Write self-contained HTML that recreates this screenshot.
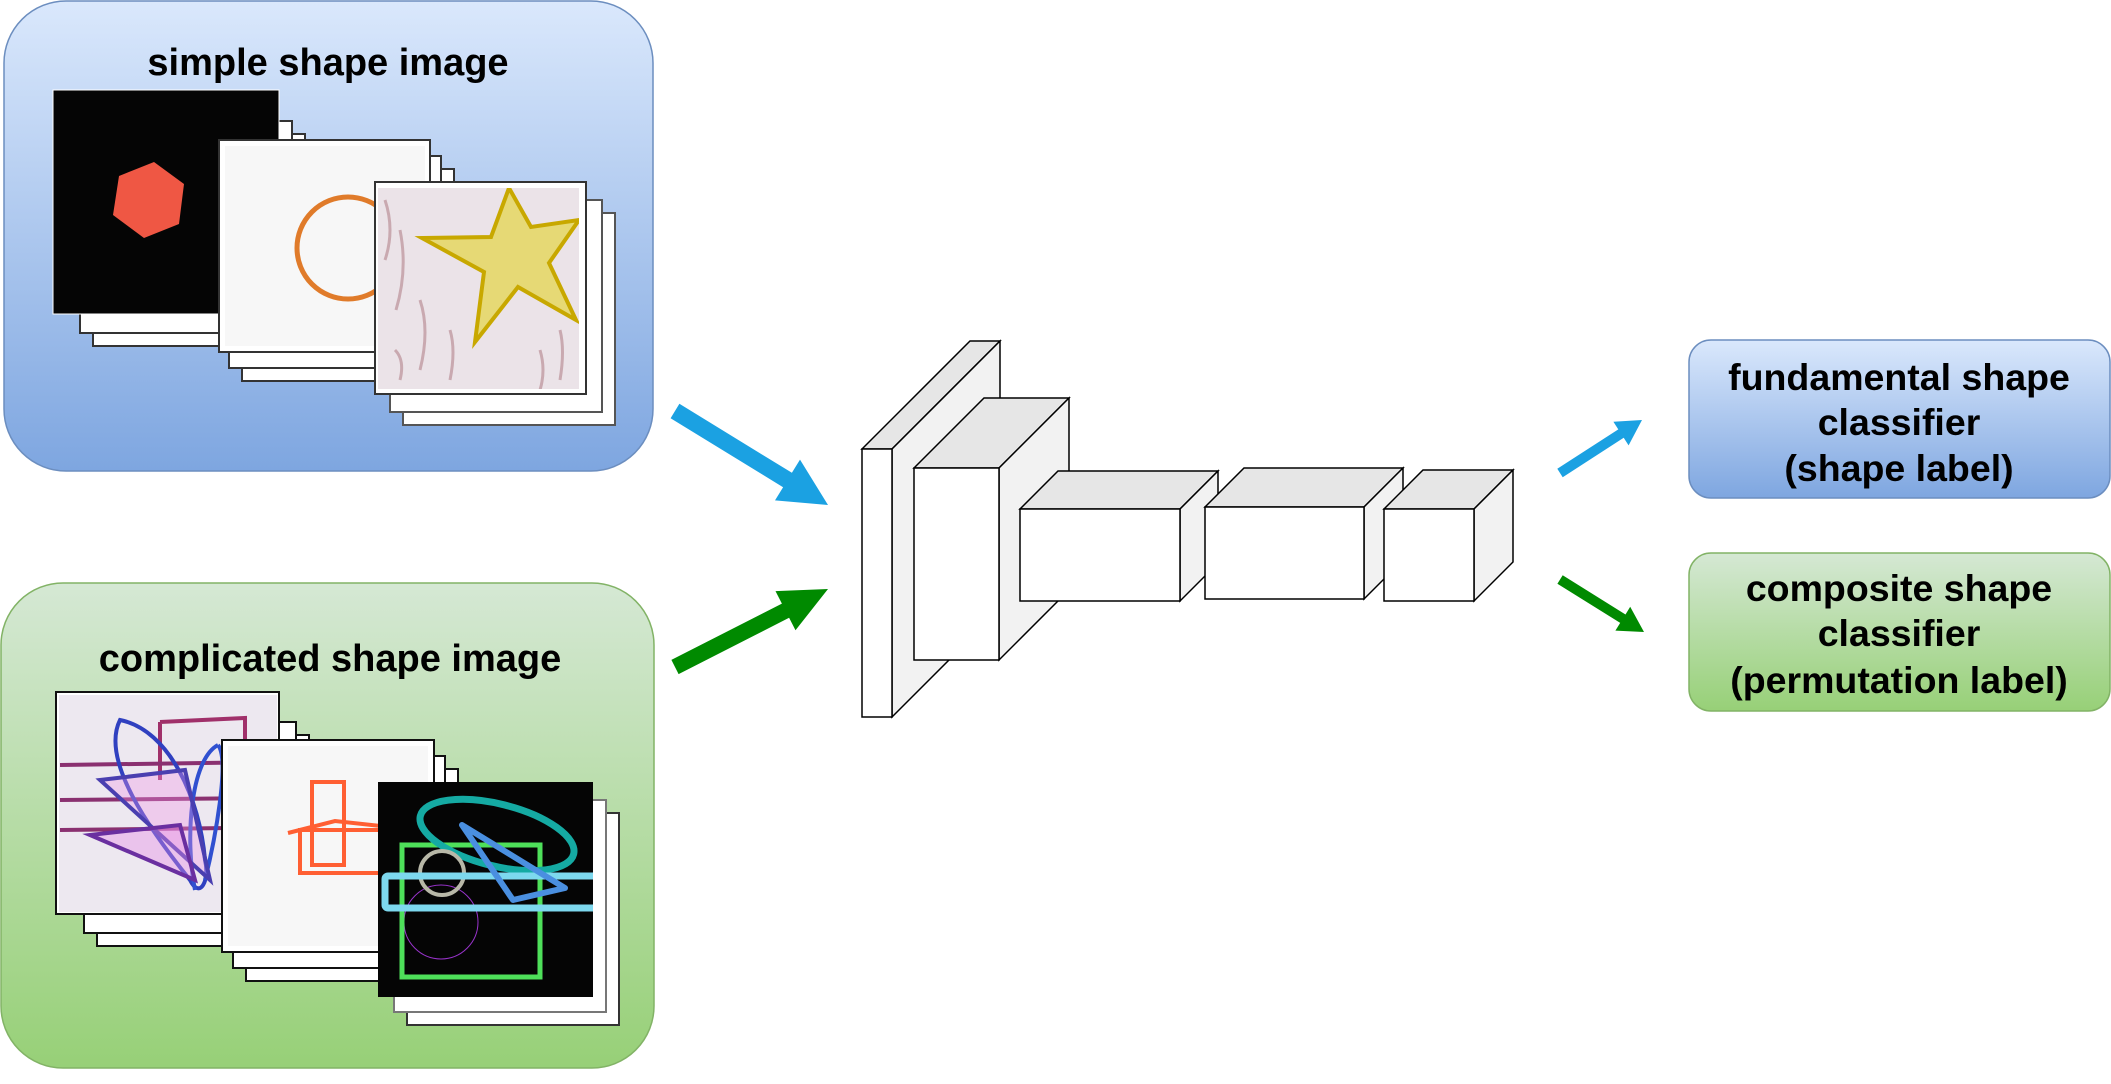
<!DOCTYPE html>
<html><head><meta charset="utf-8"><style>
html,body{margin:0;padding:0;background:#fff;width:2111px;height:1084px;overflow:hidden}
svg{display:block}
text{font-family:"Liberation Sans",Arial,sans-serif;font-weight:bold;fill:#000}
</style></head><body>
<svg width="2111" height="1084" viewBox="0 0 2111 1084" xmlns="http://www.w3.org/2000/svg">
<defs>
<linearGradient id="gb" x1="0" y1="0" x2="0" y2="1"><stop offset="0" stop-color="#dae8fc"/><stop offset="1" stop-color="#7ea6e0"/></linearGradient>
<linearGradient id="gg" x1="0" y1="0" x2="0" y2="1"><stop offset="0" stop-color="#d5e8d4"/><stop offset="1" stop-color="#97d077"/></linearGradient>
<clipPath id="c3"><rect x="378" y="188" width="201" height="201"/></clipPath>
<clipPath id="g1"><rect x="59" y="695" width="218" height="217"/></clipPath>
<clipPath id="g3"><rect x="378" y="782" width="215" height="215"/></clipPath>
</defs>

<rect x="4" y="1" width="649" height="470" rx="62" fill="url(#gb)" stroke="#6c8ebf" stroke-width="1.5"/>
<text x="328" y="75" font-size="38" text-anchor="middle">simple shape image</text>
<rect x="93" y="134" width="212" height="212" fill="#fff" stroke="#333" stroke-width="2"/>
<rect x="80" y="121" width="212" height="212" fill="#fff" stroke="#333" stroke-width="2"/>
<rect x="53" y="90" width="226" height="224" fill="#050505" stroke="#fff" stroke-width="1"/>
<polygon points="154,162 184,184 179,224 144,238 113,215 119,176" fill="#ef5744"/>
<rect x="242" y="169" width="212" height="212" fill="#fff" stroke="#333" stroke-width="2"/>
<rect x="229" y="156" width="212" height="212" fill="#fff" stroke="#333" stroke-width="2"/>
<rect x="219" y="140" width="211" height="212" fill="#fff" stroke="#333" stroke-width="2"/>
<rect x="225" y="146" width="200" height="200" fill="#f7f7f7"/>
<ellipse cx="348" cy="248" rx="51" ry="51" fill="none" stroke="#e07b2a" stroke-width="5"/>
<rect x="403" y="213" width="212" height="212" fill="#fff" stroke="#555" stroke-width="2"/>
<rect x="390" y="200" width="212" height="212" fill="#fff" stroke="#555" stroke-width="2"/>
<rect x="375" y="182" width="211" height="212" fill="#fff" stroke="#333" stroke-width="2"/>
<g clip-path="url(#c3)">
<rect x="378" y="188" width="201" height="201" fill="#ebe3e8"/>
<path d="M385 200 q10 30 0 60 M400 230 q8 40 -4 80 M420 300 q10 30 0 70 M450 330 q6 20 0 50 M540 350 q6 20 0 40 M560 330 q5 20 0 50 M395 350 q10 10 5 30" stroke="#c9a9b0" stroke-width="3" fill="none"/>
<polygon points="509,188 531,227 579,220 549,263 576,320 518,287 475,342 484,272 422,238 491,237" fill="#e6d975" stroke="#c8a800" stroke-width="4"/>
</g>

<rect x="1" y="583" width="653" height="485" rx="62" fill="url(#gg)" stroke="#82b366" stroke-width="1.5"/>
<text x="330" y="671" font-size="38" text-anchor="middle">complicated shape image</text>
<rect x="97" y="735" width="212" height="211" fill="#fff" stroke="#111" stroke-width="2"/>
<rect x="84" y="722" width="212" height="211" fill="#fff" stroke="#111" stroke-width="2"/>
<rect x="56" y="692" width="223" height="222" fill="#fff" stroke="#111" stroke-width="2"/>
<g clip-path="url(#g1)">
<rect x="59" y="695" width="218" height="217" fill="#ede8f0"/>
<path d="M160 722 L245 718 L245 740 M160 722 L160 780" stroke="#a0306a" stroke-width="4" fill="none"/>
<path d="M60 765 L275 762 M60 830 L230 828 M60 800 L270 798" stroke="#8a3070" stroke-width="4" fill="none"/>
<path d="M120 720 C100 760 150 830 190 880 C200 900 210 880 205 860 C200 800 170 730 120 720Z" stroke="#3040c0" stroke-width="4" fill="none"/>
<path d="M218 745 C190 760 185 840 195 890 M218 745 C230 760 215 840 205 880" stroke="#3050d0" stroke-width="4" fill="none"/>
<path d="M100 780 L185 770 L210 880 Z" stroke="#4a3fb0" stroke-width="4" fill="rgba(240,150,230,0.35)"/>
<path d="M90 835 L180 825 L195 880 Z" stroke="#6a2fa0" stroke-width="4" fill="rgba(230,140,230,0.4)"/>
</g>
<rect x="246" y="769" width="212" height="212" fill="#fff" stroke="#111" stroke-width="2"/>
<rect x="233" y="756" width="212" height="212" fill="#fff" stroke="#111" stroke-width="2"/>
<rect x="222" y="740" width="212" height="212" fill="#fff" stroke="#111" stroke-width="2"/>
<rect x="228" y="746" width="200" height="200" fill="#f7f7f7"/>
<rect x="312" y="782" width="32" height="83" fill="none" stroke="#ff5f33" stroke-width="4"/>
<rect x="300" y="830" width="90" height="43" fill="none" stroke="#ff5f33" stroke-width="4"/>
<polyline points="288,833 335,821 390,827" fill="none" stroke="#ff5f33" stroke-width="4"/>
<rect x="407" y="813" width="212" height="212" fill="#fff" stroke="#333" stroke-width="2"/>
<rect x="394" y="800" width="212" height="212" fill="#fff" stroke="#777" stroke-width="2"/>
<rect x="378" y="782" width="215" height="215" fill="#050505"/>
<g clip-path="url(#g3)">
<ellipse cx="441" cy="922" rx="37" ry="37" fill="none" stroke="#9933cc" stroke-width="1"/>
<rect x="402" y="845" width="138" height="132" fill="none" stroke="#4ee05a" stroke-width="5"/>
<ellipse cx="497" cy="835" rx="79" ry="31" transform="rotate(14 497 835)" fill="none" stroke="#15aaa3" stroke-width="7"/>
<ellipse cx="442" cy="873" rx="22" ry="22" fill="none" stroke="#b8b8a8" stroke-width="4"/>
<rect x="385" y="876" width="215" height="32" rx="3" fill="none" stroke="#7dd8ee" stroke-width="7"/>
<polygon points="462,825 565,888 513,900" fill="none" stroke="#4a8fe0" stroke-width="6" stroke-linejoin="round"/>
</g>

<polygon points="670.6,418.2 783.1,487.2 775,500.4 828,505 800,459.6 791.9,472.8 679.4,403.8" fill="#1ba1e2"/>
<polygon points="678.6,674.1 789.1,617.8 795.5,630.3 828,589 775.5,591.1 781.9,603.6 671.4,659.9" fill="#008a00"/>

<g stroke="#000" stroke-width="1.5" stroke-linejoin="miter">
<polygon points="862,449 970,341 1000,341 892,449" fill="#e6e6e6"/>
<polygon points="892,449 1000,341 1000,609 892,717" fill="#f2f2f2"/>
<rect x="862" y="449" width="30" height="268" fill="#fff"/>
<polygon points="914,468 984,398 1069,398 999,468" fill="#e6e6e6"/>
<polygon points="999,468 1069,398 1069,590 999,660" fill="#f2f2f2"/>
<rect x="914" y="468" width="85" height="192" fill="#fff"/>
<polygon points="1020,509 1058,471 1218,471 1180,509" fill="#e6e6e6"/>
<polygon points="1180,509 1218,471 1218,563 1180,601" fill="#f2f2f2"/>
<rect x="1020" y="509" width="160" height="92" fill="#fff"/>
<polygon points="1205,507 1244,468 1403,468 1364,507" fill="#e6e6e6"/>
<polygon points="1364,507 1403,468 1403,560 1364,599" fill="#f2f2f2"/>
<rect x="1205" y="507" width="159" height="92" fill="#fff"/>
<polygon points="1384,509 1423,470 1513,470 1474,509" fill="#e6e6e6"/>
<polygon points="1474,509 1513,470 1513,562 1474,601" fill="#f2f2f2"/>
<rect x="1384" y="509" width="90" height="92" fill="#fff"/>
</g>

<polygon points="1562.7,477.2 1623.7,437.8 1628.6,445.4 1642,420 1613.4,421.8 1618.3,429.4 1557.3,468.8" fill="#1ba1e2"/>
<polygon points="1557.4,583.7 1620.2,622.9 1615.4,630.6 1644,632 1630.2,606.8 1625.5,614.5 1562.7,575.3" fill="#008a00"/>

<rect x="1689" y="340" width="421" height="158" rx="22" fill="url(#gb)" stroke="#6c8ebf" stroke-width="1.5"/>
<text font-size="37.5" text-anchor="middle"><tspan x="1899" y="390">fundamental shape</tspan><tspan x="1899" y="435">classifier</tspan><tspan x="1899" y="481">(shape label)</tspan></text>
<rect x="1689" y="553" width="421" height="158" rx="22" fill="url(#gg)" stroke="#82b366" stroke-width="1.5"/>
<text font-size="37.5" text-anchor="middle"><tspan x="1899" y="601">composite shape</tspan><tspan x="1899" y="646">classifier</tspan><tspan x="1899" y="693">(permutation label)</tspan></text>
</svg>
</body></html>
